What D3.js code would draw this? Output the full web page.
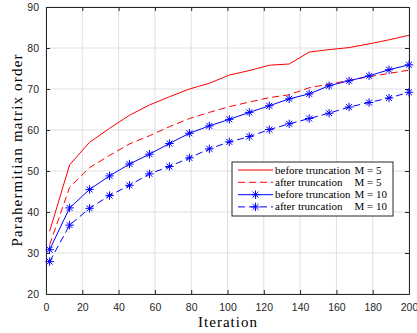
<!DOCTYPE html>
<html>
<head>
<meta charset="utf-8">
<script src="https://cdn.jsdelivr.net/npm/d3@7"></script>
<style>
  html, body { margin: 0; padding: 0; background: #fff; }
  svg { display: block; }
</style>
</head>
<body>
<svg id="chart" width="417" height="333"></svg>
<script>
// ---- data ----
const iterations = [2, 13, 24, 35, 46, 57, 68, 79, 90, 101, 112, 123, 134, 145, 156, 167, 178, 189, 200];
const beforeM5 = [35.3, 51.5, 57.0, 60.4, 63.6, 66.1, 68.1, 70.0, 71.4, 73.4, 74.5, 75.8, 76.1, 79.0, 79.6, 80.1, 81.0, 82.0, 83.1];
const afterM5  = [32.0, 46.0, 50.8, 53.8, 56.6, 58.6, 60.8, 62.8, 64.3, 65.7, 66.8, 67.9, 68.6, 70.3, 71.2, 72.1, 73.0, 73.8, 74.6];
const beforeM10 = [30.8, 41.0, 45.5, 48.8, 51.7, 54.1, 56.7, 59.2, 61.0, 62.6, 64.3, 65.9, 67.6, 68.8, 70.8, 72.0, 73.2, 74.7, 75.9];
const afterM10  = [27.9, 36.8, 40.9, 44.0, 46.5, 49.3, 51.1, 53.2, 55.4, 57.1, 58.4, 60.1, 61.5, 62.8, 64.1, 65.6, 66.7, 67.8, 69.2];
const xTicks = [0, 20, 40, 60, 80, 100, 120, 140, 160, 180, 200];
const yTicks = [20, 30, 40, 50, 60, 70, 80, 90];
const seriesNames = ["before truncation", "after truncation", "before truncation", "after truncation"];
const seriesM = ["M = 5", "M = 5", "M = 10", "M = 10"];

const series = [
  { name: seriesNames[0], m: seriesM[0], values: beforeM5,  color: "#ff0000", dash: null,  marker: false },
  { name: seriesNames[1], m: seriesM[1], values: afterM5,   color: "#ff0000", dash: "7,4", marker: false },
  { name: seriesNames[2], m: seriesM[2], values: beforeM10, color: "#0000ff", dash: null,  marker: true },
  { name: seriesNames[3], m: seriesM[3], values: afterM10,  color: "#0000ff", dash: "7,4", marker: true }
];

// ---- layout ----
const L = 46, R = 409, T = 7, B = 294;
const svg = d3.select("#chart");
const x = d3.scaleLinear().domain([0, 200]).range([L, R]);
const y = d3.scaleLinear().domain([20, 90]).range([B, T]);
const axisColor = "#262626";
const gridColor = "#dfdfdf";

// grid
const grid = svg.append("g");
grid.selectAll("line.gx").data(xTicks).join("line")
  .attr("x1", d => x(d)).attr("x2", d => x(d)).attr("y1", T).attr("y2", B)
  .attr("stroke", gridColor).attr("stroke-width", 1);
grid.selectAll("line.gy").data(yTicks).join("line")
  .attr("y1", d => y(d)).attr("y2", d => y(d)).attr("x1", L).attr("x2", R)
  .attr("stroke", gridColor).attr("stroke-width", 1);

// axes
const tickLen = 4;
const fontSans = "'Liberation Sans', Arial, sans-serif";
const fontSerif = "'Liberation Serif', 'Times New Roman', serif";

const xAxis = svg.append("g").attr("transform", `translate(0,${B})`)
  .call(d3.axisBottom(x).tickValues(xTicks).tickSizeInner(-tickLen).tickSizeOuter(0).tickPadding(10));
const yAxis = svg.append("g").attr("transform", `translate(${L},0)`)
  .call(d3.axisLeft(y).tickValues(yTicks).tickSizeInner(-tickLen).tickSizeOuter(0).tickPadding(7));
const xAxisTop = svg.append("g").attr("transform", `translate(0,${T})`)
  .call(d3.axisTop(x).tickValues(xTicks).tickSizeInner(-tickLen).tickSizeOuter(0).tickFormat(""));
const yAxisRight = svg.append("g").attr("transform", `translate(${R},0)`)
  .call(d3.axisRight(y).tickValues(yTicks).tickSizeInner(-tickLen).tickSizeOuter(0).tickFormat(""));

[xAxis, yAxis, xAxisTop, yAxisRight].forEach(g => {
  g.select(".domain").attr("stroke", axisColor).attr("stroke-width", 1);
  g.selectAll(".tick line").attr("stroke", axisColor).attr("stroke-width", 1);
  g.selectAll(".tick text").attr("fill", axisColor).style("font-family", fontSans).style("font-size", "10.5px");
});

// lines
const line = d3.line().x((d, i) => x(iterations[i])).y(d => y(d));
series.forEach(s => {
  svg.append("path").datum(s.values)
    .attr("d", line)
    .attr("fill", "none")
    .attr("stroke", s.color)
    .attr("stroke-width", 1)
    .attr("stroke-dasharray", s.dash);
});

// asterisk marker
function asterisk(g, cx, cy, r, color) {
  const d = r * Math.SQRT1_2;
  const segs = [[-r, 0, r, 0], [0, -r, 0, r], [-d, -d, d, d], [-d, d, d, -d]];
  g.append("g").selectAll("line").data(segs).join("line")
    .attr("x1", s => cx + s[0]).attr("y1", s => cy + s[1])
    .attr("x2", s => cx + s[2]).attr("y2", s => cy + s[3])
    .attr("stroke", color).attr("stroke-width", 1);
}
series.filter(s => s.marker).forEach(s => {
  s.values.forEach((v, i) => asterisk(svg, x(iterations[i]), y(v), 4.2, s.color));
});

// axis labels
svg.append("text")
  .attr("x", (L + R) / 2).attr("y", 327)
  .attr("text-anchor", "middle")
  .attr("textLength", 59).attr("lengthAdjust", "spacing")
  .style("font-family", fontSerif).style("font-size", "15px").attr("fill", "#000")
  .text("Iteration");
svg.append("text")
  .attr("transform", `translate(22,${(T + B) / 2}) rotate(-90)`)
  .attr("text-anchor", "middle")
  .attr("textLength", 192).attr("lengthAdjust", "spacing")
  .style("font-family", fontSerif).style("font-size", "15px").attr("fill", "#000")
  .text("Parahermitian matrix order");

// legend
const lg = svg.append("g");
const lgX = 232, lgY = 162, lgW = 161, lgH = 54;
lg.append("rect").attr("x", lgX).attr("y", lgY).attr("width", lgW).attr("height", lgH)
  .attr("fill", "#fff").attr("stroke", axisColor).attr("stroke-width", 1);
const rowY = [170, 182.3, 194.7, 206.9];
series.forEach((s, i) => {
  const ry = rowY[i];
  lg.append("line").attr("x1", 238).attr("x2", 273).attr("y1", ry).attr("y2", ry)
    .attr("stroke", s.color).attr("stroke-width", 1).attr("stroke-dasharray", s.dash);
  if (s.marker) asterisk(lg, 255.5, ry, 4.2, s.color);
  lg.append("text").attr("x", 275).attr("y", ry + 3.5)
    .style("font-family", fontSerif).style("font-size", "11px").attr("fill", "#000")
    .text(s.name);
  lg.append("text").attr("x", 354.5).attr("y", ry + 3.5)
    .style("font-family", fontSerif).style("font-size", "11px").attr("fill", "#000")
    .text(s.m);
});
</script>
</body>
</html>
